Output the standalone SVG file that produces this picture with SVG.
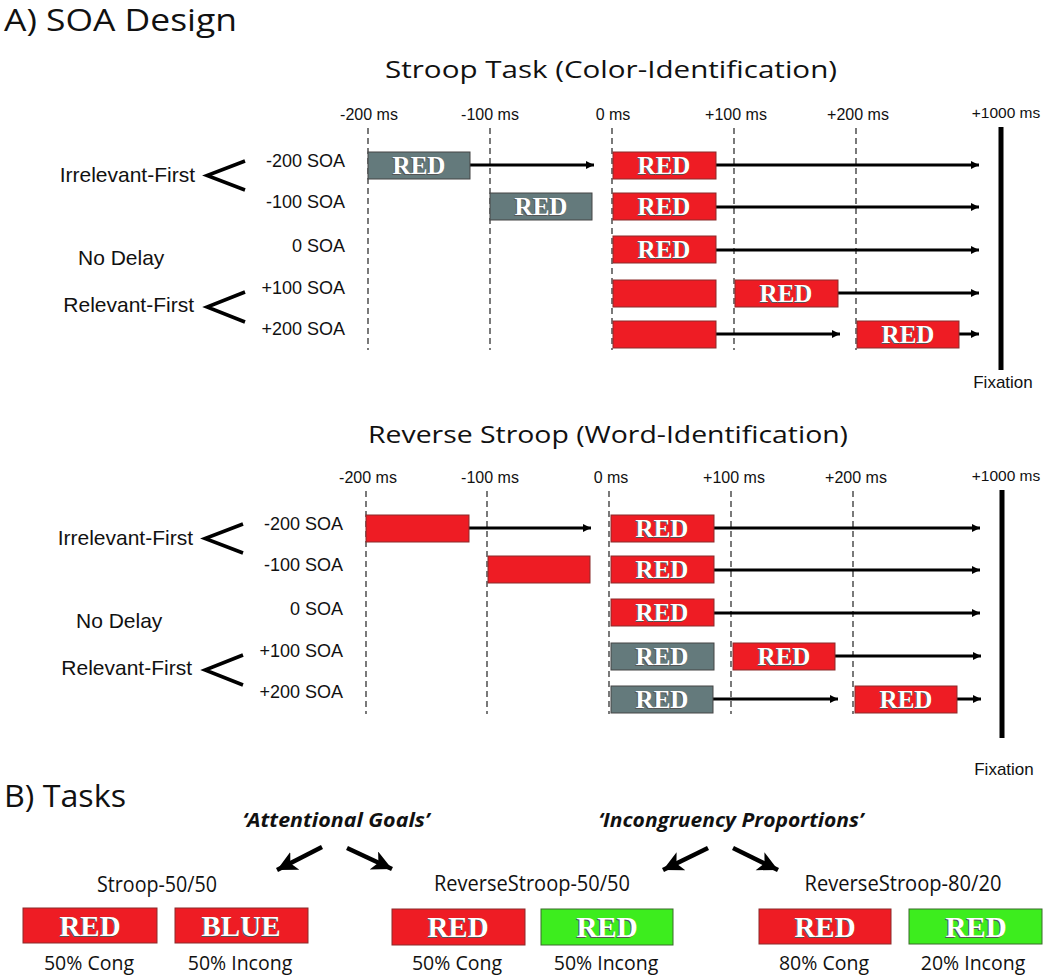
<svg xmlns="http://www.w3.org/2000/svg" width="1050" height="978" viewBox="0 0 1050 978">
<defs>
<style>
.h{font-family:"Open Sans","Noto Sans",sans-serif;fill:#111}
.a{font-family:"Liberation Sans",Arial,sans-serif;fill:#111}
.ms{font-size:16px;text-anchor:middle}
.soa{font-size:18px;text-anchor:end}
.grp{font-size:21px;text-anchor:end}
.fx{font-size:17px;text-anchor:middle}
.r{fill:#ee1c24;stroke:#8a2a2a;stroke-width:1}
.g{fill:#647a7c;stroke:#444;stroke-width:1}
.gr{fill:#3ded1e;stroke:#3a6a2a;stroke-width:1}
.w{font-family:"Liberation Serif","Times New Roman",serif;font-weight:bold;font-size:25px;text-anchor:middle;fill:#fff}
.ws{font-family:"Liberation Serif","Times New Roman",serif;font-weight:bold;font-size:25px;text-anchor:middle;fill:#555}
.L{font-size:29px}
.dash{stroke:#333;stroke-width:1.3;stroke-dasharray:6 4;fill:none}
.ln{stroke:#000;stroke-width:3;fill:none;marker-end:url(#ah)}
.fix{stroke:#000;stroke-width:5}
.br{stroke:#000;stroke-width:3.5;fill:none;stroke-linejoin:miter}
.big{stroke:#000;stroke-width:4.5;fill:none;marker-end:url(#bh)}
.pct{font-size:19.5px;text-anchor:middle}
</style>
<marker id="ah" markerUnits="userSpaceOnUse" markerWidth="10" markerHeight="10" refX="8" refY="4" orient="auto"><path d="M0,0 L8,4 L0,8 Z" fill="#000"/></marker>
<marker id="bh" markerUnits="userSpaceOnUse" markerWidth="24" markerHeight="24" refX="20" refY="10" orient="auto"><path d="M0,0 L20,10 L0,20 L5,10 Z" fill="#000"/></marker>
</defs>
<rect width="1050" height="978" fill="#fff"/>

<text class="h" x="4" y="31" font-size="31" textLength="233" lengthAdjust="spacingAndGlyphs">A) SOA Design</text>

<g id="panelA-stroop">
<text class="h" x="611" y="78" font-size="24" text-anchor="middle" textLength="452" lengthAdjust="spacingAndGlyphs">Stroop Task (Color-Identification)</text>
<g id="timeaxis-top">
<text class="a ms" x="369" y="120">-200 ms</text>
<text class="a ms" x="490" y="120">-100 ms</text>
<text class="a ms" x="613" y="120">0 ms</text>
<text class="a ms" x="736" y="120">+100 ms</text>
<text class="a ms" x="858" y="120">+200 ms</text>
<text class="a" x="1006" y="118" font-size="15.5" text-anchor="middle">+1000 ms</text>
<line class="dash" x1="368" y1="128" x2="368" y2="350"/>
<line class="dash" x1="490" y1="128" x2="490" y2="350"/>
<line class="dash" x1="612" y1="128" x2="612" y2="350"/>
<line class="dash" x1="734" y1="128" x2="734" y2="350"/>
<line class="dash" x1="856" y1="128" x2="856" y2="350"/>
</g>
<g id="labels-top">
<text class="a grp" x="195" y="182">Irrelevant-First</text>
<text class="a" x="78" y="265" font-size="21">No Delay</text>
<text class="a grp" x="194" y="312">Relevant-First</text>
<path class="br" d="M245,161 L207,175.5 L245,190"/>
<path class="br" d="M245,292 L207,307 L245,322"/>
<text class="a soa" x="345" y="167">-200 SOA</text>
<text class="a soa" x="345" y="208">-100 SOA</text>
<text class="a soa" x="345" y="252">0 SOA</text>
<text class="a soa" x="345" y="294">+100 SOA</text>
<text class="a soa" x="345" y="335">+200 SOA</text>
</g>
<g id="fixation-top">
<line class="fix" x1="1001" y1="127" x2="1001" y2="370"/>
<text class="a fx" x="1003" y="388">Fixation</text>
</g>
<g id="connectors-top">
<line class="ln" x1="470" y1="165" x2="594" y2="165"/>
<line class="ln" x1="716" y1="165" x2="979" y2="165"/>
<line class="ln" x1="716" y1="207" x2="979" y2="207"/>
<line class="ln" x1="716" y1="250" x2="979" y2="250"/>
<line class="ln" x1="838" y1="293" x2="979" y2="293"/>
<line class="ln" x1="716" y1="334" x2="840" y2="334"/>
<line class="ln" x1="959" y1="334" x2="979" y2="334"/>
</g>
<g id="t-r1-irrelevant"><rect class="g" x="368" y="152" width="102" height="27"/><text class="ws" x="418" y="175">RED</text><text class="w" x="419" y="174">RED</text></g>
<g id="t-r1-relevant"><rect class="r" x="613" y="152" width="103" height="27"/><text class="ws" x="663" y="175">RED</text><text class="w" x="664" y="174">RED</text></g>
<g id="t-r2-irrelevant"><rect class="g" x="490" y="193" width="102" height="27"/><text class="ws" x="540" y="216">RED</text><text class="w" x="541" y="215">RED</text></g>
<g id="t-r2-relevant"><rect class="r" x="613" y="193" width="103" height="27"/><text class="ws" x="663" y="216">RED</text><text class="w" x="664" y="215">RED</text></g>
<g id="t-r3-both"><rect class="r" x="613" y="236" width="103" height="27"/><text class="ws" x="663" y="259">RED</text><text class="w" x="664" y="258">RED</text></g>
<g id="t-r4-relevant"><rect class="r" x="613" y="280" width="103" height="27"/></g>
<g id="t-r4-irrelevant"><rect class="r" x="735" y="280" width="103" height="27"/><text class="ws" x="785" y="303">RED</text><text class="w" x="786" y="302">RED</text></g>
<g id="t-r5-relevant"><rect class="r" x="613" y="321" width="103" height="27"/></g>
<g id="t-r5-irrelevant"><rect class="r" x="857" y="321" width="102" height="27"/><text class="ws" x="907" y="344">RED</text><text class="w" x="908" y="343">RED</text></g>
</g>

<g id="panelA-reverse">
<text class="h" x="608" y="443" font-size="24" text-anchor="middle" textLength="480" lengthAdjust="spacingAndGlyphs">Reverse Stroop (Word-Identification)</text>
<g id="timeaxis-bottom">
<text class="a ms" x="368" y="483">-200 ms</text>
<text class="a ms" x="490" y="483">-100 ms</text>
<text class="a ms" x="611" y="483">0 ms</text>
<text class="a ms" x="734" y="483">+100 ms</text>
<text class="a ms" x="856" y="483">+200 ms</text>
<text class="a" x="1006" y="481" font-size="15.5" text-anchor="middle">+1000 ms</text>
<line class="dash" x1="366" y1="491" x2="366" y2="714"/>
<line class="dash" x1="487" y1="491" x2="487" y2="714"/>
<line class="dash" x1="609" y1="491" x2="609" y2="714"/>
<line class="dash" x1="731" y1="491" x2="731" y2="714"/>
<line class="dash" x1="853" y1="491" x2="853" y2="714"/>
</g>
<g id="labels-bottom">
<text class="a grp" x="193" y="545">Irrelevant-First</text>
<text class="a" x="76" y="628" font-size="21">No Delay</text>
<text class="a grp" x="192" y="675">Relevant-First</text>
<path class="br" d="M243,524 L205,538.5 L243,553"/>
<path class="br" d="M243,655 L205,670 L243,685"/>
<text class="a soa" x="343" y="530">-200 SOA</text>
<text class="a soa" x="343" y="571">-100 SOA</text>
<text class="a soa" x="343" y="615">0 SOA</text>
<text class="a soa" x="343" y="657">+100 SOA</text>
<text class="a soa" x="343" y="698">+200 SOA</text>
</g>
<g id="fixation-bottom">
<line class="fix" x1="1002" y1="490" x2="1002" y2="738"/>
<text class="a fx" x="1004" y="775">Fixation</text>
</g>
<g id="connectors-bottom">
<line class="ln" x1="469" y1="528" x2="591" y2="528"/>
<line class="ln" x1="714" y1="528" x2="980" y2="528"/>
<line class="ln" x1="714" y1="570" x2="980" y2="570"/>
<line class="ln" x1="714" y1="613" x2="980" y2="613"/>
<line class="ln" x1="835" y1="656" x2="981" y2="656"/>
<line class="ln" x1="713" y1="699" x2="838" y2="699"/>
<line class="ln" x1="957" y1="699" x2="981" y2="699"/>
</g>
<g id="b-r1-irrelevant"><rect class="r" x="366" y="515" width="103" height="27"/></g>
<g id="b-r1-relevant"><rect class="r" x="611" y="515" width="103" height="27"/><text class="ws" x="661" y="538">RED</text><text class="w" x="662" y="537">RED</text></g>
<g id="b-r2-irrelevant"><rect class="r" x="488" y="556" width="102" height="27"/></g>
<g id="b-r2-relevant"><rect class="r" x="611" y="556" width="103" height="27"/><text class="ws" x="661" y="579">RED</text><text class="w" x="662" y="578">RED</text></g>
<g id="b-r3-both"><rect class="r" x="611" y="599" width="103" height="27"/><text class="ws" x="661" y="622">RED</text><text class="w" x="662" y="621">RED</text></g>
<g id="b-r4-relevant"><rect class="g" x="611" y="643" width="103" height="27"/><text class="ws" x="661" y="666">RED</text><text class="w" x="662" y="665">RED</text></g>
<g id="b-r4-irrelevant"><rect class="r" x="733" y="643" width="102" height="27"/><text class="ws" x="783" y="666">RED</text><text class="w" x="784" y="665">RED</text></g>
<g id="b-r5-relevant"><rect class="g" x="611" y="686" width="102" height="27"/><text class="ws" x="661" y="709">RED</text><text class="w" x="662" y="708">RED</text></g>
<g id="b-r5-irrelevant"><rect class="r" x="855" y="686" width="102" height="27"/><text class="ws" x="905" y="709">RED</text><text class="w" x="906" y="708">RED</text></g>
</g>

<text class="h" x="4" y="807" font-size="31" textLength="122" lengthAdjust="spacingAndGlyphs">B) Tasks</text>

<g id="panelB">
<text class="h" x="336" y="827" font-size="19" font-weight="bold" font-style="italic" text-anchor="middle" textLength="187" lengthAdjust="spacingAndGlyphs">‘Attentional Goals’</text>
<text class="h" x="731" y="827" font-size="19" font-weight="bold" font-style="italic" text-anchor="middle" textLength="265" lengthAdjust="spacingAndGlyphs">‘Incongruency Proportions’</text>
<g id="task-arrows">
<line class="big" x1="322" y1="847" x2="277" y2="870"/>
<line class="big" x1="347" y1="848" x2="392" y2="869"/>
<line class="big" x1="708" y1="848" x2="663" y2="870"/>
<line class="big" x1="733" y1="848" x2="778" y2="870"/>
</g>
<g id="task-stroop5050">
<text class="h" x="157" y="892" font-size="21" text-anchor="middle" textLength="120" lengthAdjust="spacingAndGlyphs">Stroop-50/50</text>
<rect class="r" x="23" y="908" width="134" height="35"/>
<text class="ws L" x="89" y="937">RED</text><text class="w L" x="90" y="936">RED</text>
<rect class="r" x="175" y="908" width="133" height="35"/>
<text class="ws L" x="240" y="937">BLUE</text><text class="w L" x="241" y="936">BLUE</text>
<text class="h pct" x="89" y="970">50% Cong</text>
<text class="h pct" x="240" y="970">50% Incong</text>
</g>
<g id="task-reverse5050">
<text class="h" x="532" y="891" font-size="21" text-anchor="middle" textLength="196" lengthAdjust="spacingAndGlyphs">ReverseStroop-50/50</text>
<rect class="r" x="392" y="909" width="133" height="36"/>
<text class="ws L" x="457" y="938">RED</text><text class="w L" x="458" y="937">RED</text>
<rect class="gr" x="541" y="909" width="132" height="36"/>
<text class="ws L" x="606" y="938">RED</text><text class="w L" x="607" y="937">RED</text>
<text class="h pct" x="457" y="970">50% Cong</text>
<text class="h pct" x="606" y="970">50% Incong</text>
</g>
<g id="task-reverse8020">
<text class="h" x="903" y="891" font-size="21" text-anchor="middle" textLength="197" lengthAdjust="spacingAndGlyphs">ReverseStroop-80/20</text>
<rect class="r" x="759" y="909" width="132" height="35"/>
<text class="ws L" x="824" y="938">RED</text><text class="w L" x="825" y="937">RED</text>
<rect class="gr" x="909" y="909" width="133" height="35"/>
<text class="ws L" x="975" y="938">RED</text><text class="w L" x="976" y="937">RED</text>
<text class="h pct" x="824" y="970">80% Cong</text>
<text class="h pct" x="973" y="970">20% Incong</text>
</g>
</g>
</svg>
